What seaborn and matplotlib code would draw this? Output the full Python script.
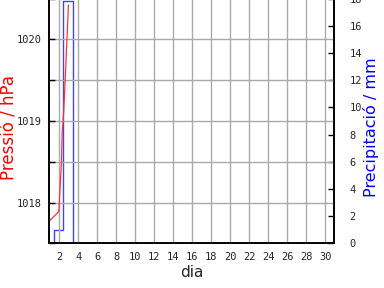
import numpy as np
import pandas as pd
import matplotlib
matplotlib.use("Agg")
import matplotlib.pyplot as plt
import seaborn as sns

# Pressure data (day, hPa)
p_day = [1.02, 1.97, 2.04, 2.15, 2.25, 2.32, 2.49, 2.60, 2.71, 2.81, 2.92, 2.97]
p_val = [1017.78, 1017.89, 1018.05, 1018.30, 1018.50, 1018.86, 1019.14, 1019.41,
         1019.70, 1019.98, 1020.26, 1020.42]

# Precipitation (bin edges in days, mm per bin)
r_edges = [1.45, 2.45, 3.45]
r_val = [1.0, 17.8]

x_ticks = list(range(2, 31, 2))
p_ticks = [1018, 1019, 1020]
r_ticks = list(range(0, 19, 2))

sns.set_style("white")
plt.rcParams['font.family'] = ['DejaVu Sans']

fig = plt.figure(figsize=(3.84, 2.88), dpi=100)
ax = fig.add_axes([0.128, 0.155, 0.743, 0.85])
ax2 = ax.twinx()

# precipitation step outline
sx = [r_edges[0], r_edges[0], r_edges[1], r_edges[1], r_edges[2], r_edges[2]]
sy = [0, r_val[0], r_val[0], r_val[1], r_val[1], 0]
ax2.plot(sx, sy, color="#4444ff", lw=1.0)

df = pd.DataFrame({"dia": p_day, "p": p_val})
sns.lineplot(data=df, x="dia", y="p", ax=ax, color="#ff3333", lw=0.9)

ax.set_xlim(0.95, 30.95)
ax.set_ylim(1017.5, 1020.5)
ax2.set_ylim(0, 18)

tick_font = dict(family="DejaVu Sans Mono", fontsize=7.5)
ax.set_xticks(x_ticks)
ax.set_xticklabels([str(t) for t in x_ticks], **tick_font)
yt = np.arange(1017.5, 1020.51, 0.5)
ax.set_yticks(yt)
ax.set_yticklabels([str(int(t)) if t in p_ticks else "" for t in yt], **tick_font)
ax2.set_yticks(r_ticks)
ax2.set_yticklabels([str(t) for t in r_ticks], **tick_font)

ax.grid(True, color="#aaaaaa", lw=1.0)
ax.set_axisbelow(True)
ax.tick_params(axis="x", direction="in", length=4, width=1, color="black", pad=6)
ax.tick_params(axis="y", direction="in", length=4, width=1, color="black", pad=5)
ax2.tick_params(direction="in", length=4, width=1, color="black", pad=11)

for a in (ax, ax2):
    for s in ("left", "right", "bottom"):
        a.spines[s].set_color("black")
        a.spines[s].set_linewidth(1.2)
    a.spines["top"].set_visible(False)

ax.set_xlabel("dia", fontsize=11)
ax.xaxis.set_label_coords(0.5, -0.09)
ax.set_ylabel("Pressió / hPa", color="red", fontsize=12)
ax.yaxis.set_label_coords(-0.107, 0.475)
ax2.set_ylabel("Precipitació / mm", color="blue", fontsize=11.5)
ax2.yaxis.set_label_coords(1.1, 0.475)
ax.set_zorder(ax2.get_zorder() + 1)
ax.patch.set_visible(False)

fig.savefig("out.png", dpi=100)
